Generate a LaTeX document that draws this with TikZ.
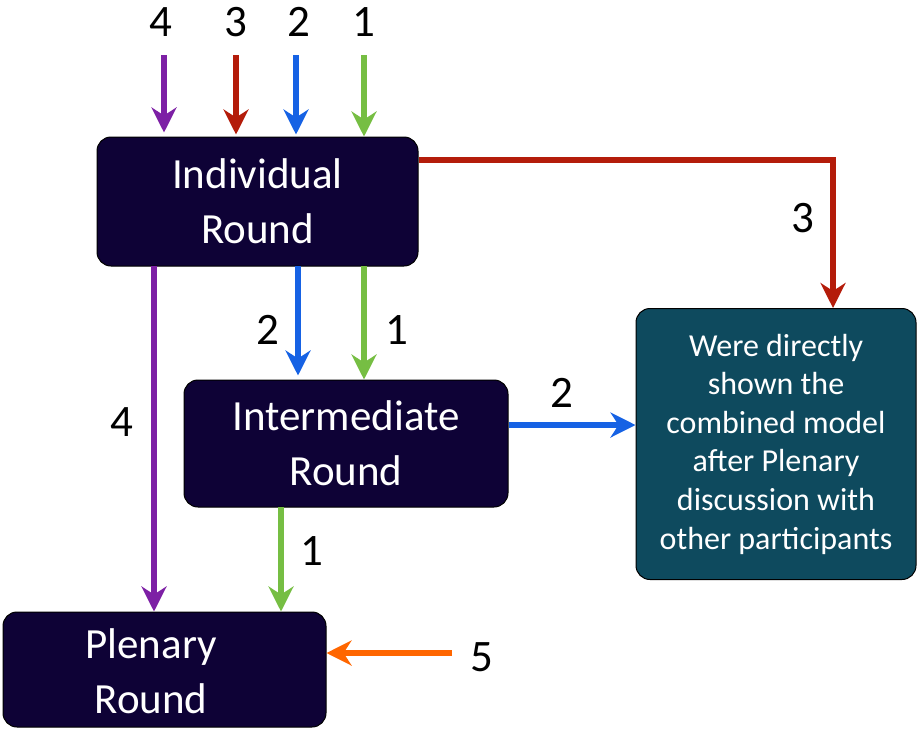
\documentclass[tikz,border=0pt]{standalone}
\usepackage{fontspec}
\setmainfont{Carlito}
\usetikzlibrary{arrows.meta}
\definecolor{boxdark}{RGB}{14,2,54}
\definecolor{boxteal}{RGB}{14,74,94}
\definecolor{cpurple}{RGB}{125,32,165}
\definecolor{cred}{RGB}{180,28,10}
\definecolor{cblue}{RGB}{22,98,228}
\definecolor{cgreen}{RGB}{118,190,67}
\definecolor{corange}{RGB}{255,102,0}
\tikzset{
  roundbox/.style={draw=black, line width=1pt, fill=boxdark, rounded corners=14pt,
    text=white, align=center, inner sep=0pt, font=\fontsize{43}{55}\selectfont},
  tealbox/.style={draw=black, line width=1pt, fill=boxteal, rounded corners=14pt,
    text=white, align=center, inner sep=0pt, font=\fontsize{32}{38.6}\selectfont},
  boxtext/.style={text=white, align=center, inner sep=0pt, font=\fontsize{43}{55}\selectfont},
  arr/.style={line width=6pt, -{Stealth[length=25pt,width=25pt,inset=8pt]}},
  lbl/.style={inner sep=0pt, font=\fontsize{45}{50}\selectfont, text=black}
}
\begin{document}
\begin{tikzpicture}[x=1pt,y=-1pt]
\useasboundingbox (0,0) rectangle (917,731);
% boxes
\node[roundbox, minimum width=321pt, minimum height=129pt] (ind) at (257.5,201.5) {Individual\\Round};
\node[roundbox, minimum width=324pt, minimum height=127pt] (mid) at (346,443.5) {Intermediate\\Round};
\node[roundbox, minimum width=323pt, minimum height=115pt] (ple) at (164.5,669.5) {};
\node[boxtext] (pletext) at (151,671) {Plenary\\Round};
\node[tealbox, minimum width=280pt, minimum height=271pt] (dir) at (776,444) {Were directly\\shown the\\combined model\\after Plenary\\discussion with\\other participants};
% top inputs
\coordinate (s4) at (164,55);
\coordinate (s3) at (236,55);
\coordinate (s2) at (296,55);
\coordinate (s1) at (364,55);
\node[lbl] (t4) at (161,22) {4};
\node[lbl] (t3) at (236,22) {3};
\node[lbl] (t2) at (299,22) {2};
\node[lbl] (t1) at (364,22) {1};
\draw[arr, cpurple] (s4) -- ([yshift=4pt]s4 |- ind.north);
\draw[arr, cred] (s3) -- ([yshift=2pt]s3 |- ind.north);
\draw[arr, cblue] (s2) -- ([yshift=2pt]s2 |- ind.north);
\draw[arr, cgreen] (s1) -- (s1 |- ind.north);
% red path to teal box
\coordinate (r0) at (ind.east |- 0,160);
\coordinate (rc) at (833,160);
\draw[arr, cred] (r0) -- (rc) -- (rc |- dir.north);
\node[lbl] (l3) at (803,218) {3};
% individual -> intermediate
\coordinate (b2) at (298,266);
\coordinate (g1) at (364,266);
\draw[arr, cblue] (b2) -- ([yshift=4pt]b2 |- mid.north);
\draw[arr, cgreen] (g1) -- (g1 |- mid.north);
\node[lbl] (l2a) at (268,330) {2};
\node[lbl] (l1a) at (397,330) {1};
% individual -> plenary (purple)
\coordinate (p4) at (154,266);
\draw[arr, cpurple] (p4) -- (p4 |- ple.north);
\node[lbl] (l4) at (122,422) {4};
% intermediate -> teal
\coordinate (m2) at (mid.east |- 0,425);
\draw[arr, cblue] (m2) -- (m2 -| dir.west);
\node[lbl] (l2b) at (562,393) {2};
% intermediate -> plenary
\coordinate (g2) at (281,507);
\draw[arr, cgreen] (g2) -- (g2 |- ple.north);
\node[lbl] (l1b) at (312,551) {1};
% orange input
\coordinate (o5) at (452,653);
\draw[arr, corange] (o5) -- (o5 -| ple.east);
\node[lbl] (l5) at (482,657) {5};
\end{tikzpicture}
\end{document}
